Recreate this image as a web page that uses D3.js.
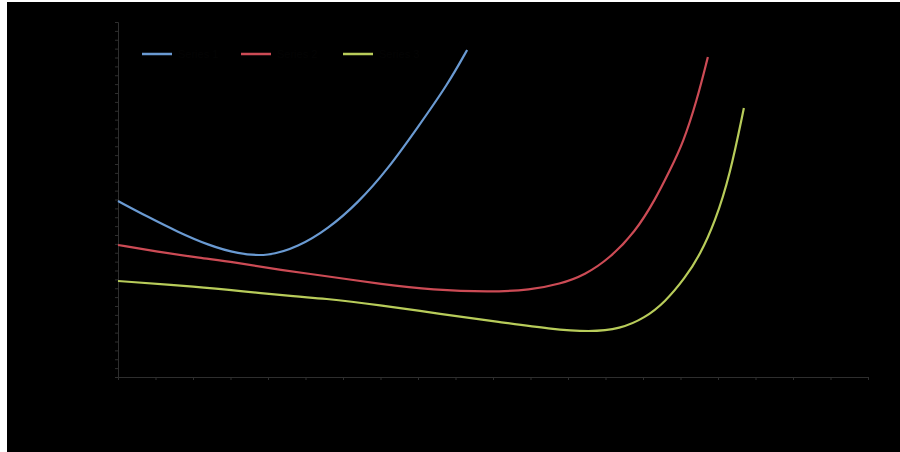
<!DOCTYPE html>
<html><head><meta charset="utf-8">
<script src="https://cdn.jsdelivr.net/npm/d3@7"></script>
<style>html,body{margin:0;padding:0;background:#fff;}svg{display:block;}</style>
</head><body>
<svg id="c" width="900" height="452"></svg>
<script>
// Series names (labels in the reference are unreadable / black on black)
const seriesNames = ["Series 1", "Series 2", "Series 3"];
const seriesColors = ["#6a9ad2", "#cc4b55", "#b8cc5a"];

// X tick values
const xTicks = d3.range(0, 21, 1);
const yTicks = d3.range(0, 41, 1);

// Series values (x, y)
const blueX = [0, 0.8, 1.6, 2.4, 3.2, 4.0, 4.8, 5.6, 6.4, 7.2, 8.0, 8.8, 9.31];
const blueY = [19.83, 18.03, 16.34, 14.87, 13.86, 13.58, 14.65, 16.68, 19.61, 23.44, 28.17, 33.01, 36.85];

const redX = [0, 1.12, 2.19, 3.07, 4.32, 5.73, 6.99, 8.4, 9.92, 10.99, 11.79, 12.45, 13.12, 13.79, 14.32, 14.72, 15.07, 15.44, 15.73];
const redY = [14.87, 14.08, 13.41, 12.96, 12.06, 11.27, 10.48, 9.80, 9.58, 9.80, 10.48, 11.49, 13.41, 16.34, 19.94, 23.32, 26.37, 31.21, 36.06];

const yelX = [0, 2.19, 3.25, 4.85, 5.39, 6.99, 8.59, 10.19, 11.52, 12.59, 13.39, 14.05, 14.59, 15.12, 15.52, 15.92, 16.32, 16.69];
const yelY = [10.82, 10.14, 9.69, 9.01, 8.90, 8.11, 7.10, 6.20, 5.41, 5.07, 5.41, 6.65, 8.45, 11.15, 13.75, 17.46, 22.76, 30.31];

const svg = d3.select("#c");
svg.append("rect").attr("x", 7).attr("y", 2).attr("width", 893).attr("height", 450).attr("fill", "#000");

const x = d3.scaleLinear().domain([0, 20]).range([118, 868]);
const y = d3.scaleLinear().domain([0, 40]).range([377, 22]);

const axisCol = "#2e2e2e";
const gx = svg.append("g").attr("transform", `translate(0,${y(0)})`)
  .call(d3.axisBottom(x).tickValues(xTicks).tickSize(3).tickFormat(""));
const gy = svg.append("g").attr("transform", `translate(${x(0)},0)`)
  .call(d3.axisLeft(y).tickValues(yTicks).tickSize(3).tickFormat(""));
[gx, gy].forEach(g => {
  g.selectAll("path").attr("stroke", axisCol);
  g.selectAll("line").attr("stroke", axisCol);
});

const series = [
  {x: blueX, y: blueY},
  {x: redX, y: redY},
  {x: yelX, y: yelY}
];
const line = d3.line().x(d => x(d[0])).y(d => y(d[1])).curve(d3.curveBasis);
series.forEach((s, i) => {
  const pts = s.x.map((v, j) => [v, s.y[j]]);
  svg.append("path").datum(pts).attr("d", line)
    .attr("fill", "none").attr("stroke", seriesColors[i]).attr("stroke-width", 2.2);
});

// Legend
const legX = [142, 241, 343];
seriesNames.forEach((n, i) => {
  svg.append("line").attr("x1", legX[i]).attr("x2", legX[i] + 30)
    .attr("y1", 54).attr("y2", 54).attr("stroke", seriesColors[i]).attr("stroke-width", 2.5);
  svg.append("text").attr("x", legX[i] + 36).attr("y", 58)
    .attr("fill", "#040404").attr("font-family", "Liberation Sans, Arial, sans-serif")
    .attr("font-size", 11).text(n);
});
</script>
</body></html>
